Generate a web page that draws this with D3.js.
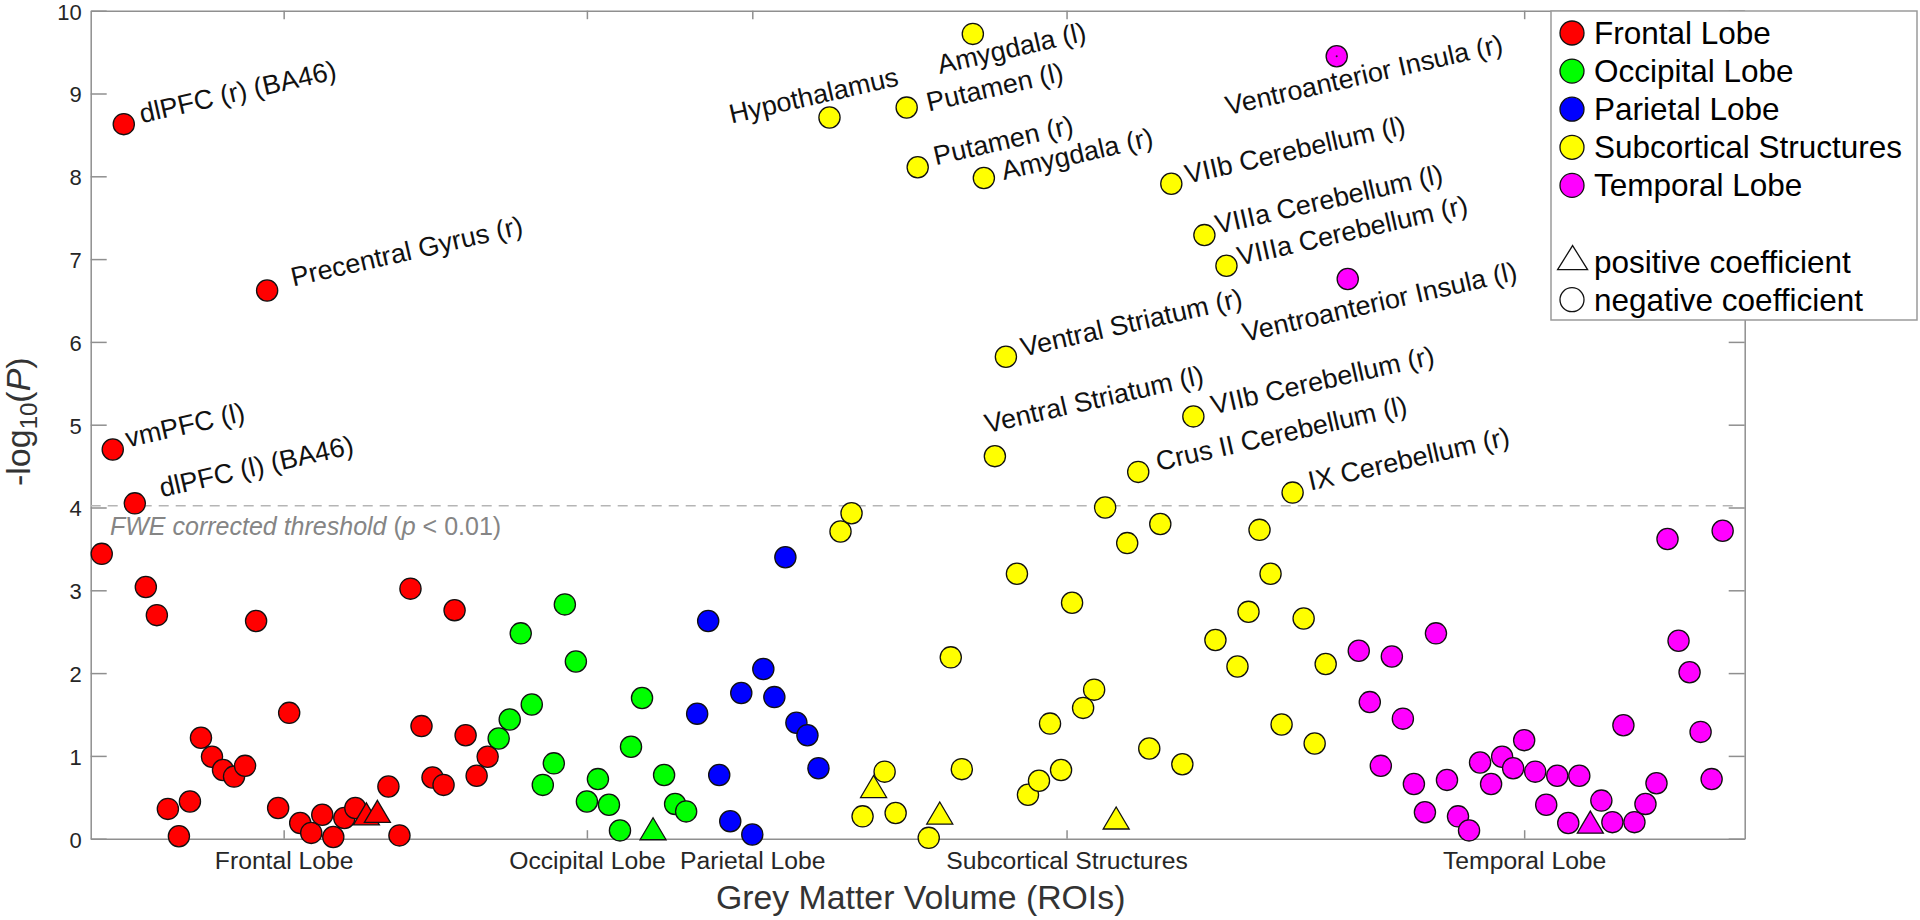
<!DOCTYPE html>
<html><head><meta charset="utf-8">
<script src="https://cdn.jsdelivr.net/npm/d3@7"></script>
<style>body{margin:0;background:#fff}svg{display:block}</style>
</head><body>
<svg id="chart" width="1920" height="920"></svg>
<script>
// ---------------- DATA ----------------
const categories = ["Frontal Lobe", "Occipital Lobe", "Parietal Lobe", "Subcortical Structures", "Temporal Lobe"];
const frontalValues = [3.44, 4.70, 8.63, 4.05, 3.04, 2.70, 0.36, 0.03, 0.45, 1.22, 0.99, 0.83, 0.75, 0.88, 2.63, 6.62, 0.37, 1.52, 0.19, 0.07, 0.29, 0.02, 0.25, 0.37, 0.30, 0.33, 0.63, 0.04, 3.02, 1.36, 0.74, 0.65, 2.76, 1.25, 0.76, 0.99];
const occipitalValues = [1.21, 1.44, 2.48, 1.62, 0.65, 0.91, 2.83, 2.14, 0.45, 0.72, 0.41, 0.10, 1.11, 1.70, 0.12, 0.77, 0.42, 0.33];
const parietalValues = [1.51, 2.63, 0.77, 0.21, 1.76, 0.05, 2.05, 1.71, 3.40, 1.40, 1.25, 0.85];
const subcorticalValues = [8.71, 3.71, 3.93, 0.27, 0.63, 0.81, 0.31, 8.83, 8.11, 0.01, 0.31, 2.19, 0.84, 9.72, 7.98, 4.62, 5.82, 3.20, 0.53, 0.70, 1.39, 0.83, 2.85, 1.58, 1.80, 4.00, 0.25, 3.57, 4.43, 1.09, 3.80, 7.91, 0.90, 5.10, 7.29, 2.40, 6.92, 2.08, 2.74, 3.73, 3.20, 1.38, 4.18, 2.66, 1.15, 2.11];
const temporalValues = [9.45, 6.76, 2.27, 1.65, 0.88, 2.20, 1.45, 0.66, 0.32, 2.48, 0.71, 0.27, 0.10, 0.92, 0.66, 0.99, 0.85, 1.19, 0.81, 0.41, 0.76, 0.19, 0.76, 0.20, 0.46, 0.20, 1.37, 0.20, 0.42, 0.67, 3.62, 2.39, 2.01, 1.29, 0.72, 3.72];
const seriesValues = [frontalValues, occipitalValues, parietalValues, subcorticalValues, temporalValues];
// ROI numbers (1-based, across all categories) with a positive coefficient
const positiveROIs = [25, 26, 51, 71, 77, 93, 136];
const yTickValues = [0, 1, 2, 3, 4, 5, 6, 7, 8, 9, 10];
const categoryTickPositions = [17.5, 45, 60, 88.5, 130];
const fweThreshold = 4.02;
const roiLabels = [
  [2, "vmPFC (l)"], [3, "dlPFC (r) (BA46)"], [4, "dlPFC (l) (BA46)"], [16, "Precentral Gyrus (r)"],
  [67, "Hypothalamus"], [74, "Putamen (l)"], [75, "Putamen (r)"], [80, "Amygdala (l)"], [81, "Amygdala (r)"],
  [82, "Ventral Striatum (l)"], [83, "Ventral Striatum (r)"], [95, "Crus II Cerebellum (l)"],
  [98, "VIIb Cerebellum (l)"], [100, "VIIb Cerebellum (r)"], [101, "VIIIa Cerebellum (l)"],
  [103, "VIIIa Cerebellum (r)"], [109, "IX Cerebellum (r)"],
  [113, "Ventroanterior Insula (r)"], [114, "Ventroanterior Insula (l)"]
];
const legendLabels = ["Frontal Lobe", "Occipital Lobe", "Parietal Lobe", "Subcortical Structures", "Temporal Lobe", "", "positive coefficient", "negative coefficient"];

// ---------------- LAYOUT / STYLE ----------------
const colors = ["#ff0000", "#00ff00", "#0000ff", "#ffff00", "#ff00ff"];
const FONT = "'Liberation Sans', Arial, Helvetica, sans-serif";
const plot = {left: 90.7, right: 1744.7, top: 10.7, bottom: 838.7};
// label text start offsets (px) relative to the marker centre
const labelOffsets = {
  2: [15, -2], 3: [18, -1], 4: [27, -6], 16: [26, -4], 67: [-98, 6], 74: [22, 4], 75: [18, -2],
  80: [-33, 40], 81: [20, 2], 82: [-8, -23], 83: [17, 0], 95: [20, -1], 98: [16, 0], 100: [20, -2],
  101: [13, -1], 103: [13, 0], 109: [18, -2], 113: [-109, 59], 114: [-103, 63]
};
const labelAngle = -12.8;
const axisColor = "#8f8f8f";

const svg = d3.select("#chart");
svg.append("rect").attr("width", 1920).attr("height", 920).attr("fill", "#fff");

const x = d3.scaleLinear().domain([0, 150]).range([plot.left, plot.right]);
const y = d3.scaleLinear().domain([0, 10]).range([plot.bottom, plot.top]);

// build points
const points = [];
let roi = 0;
seriesValues.forEach((vals, ci) => {
  vals.forEach(v => {
    roi += 1;
    points.push({roi, value: v, cat: ci, positive: positiveROIs.includes(roi)});
  });
});

// ---------------- AXES ----------------
function styleAxis(g) {
  g.select(".domain").attr("stroke", axisColor).attr("stroke-width", 1.5);
  g.selectAll(".tick line").attr("stroke", axisColor).attr("stroke-width", 1.5);
  g.selectAll(".tick text").attr("fill", "#262626").attr("font-family", FONT);
}
const gLeft = svg.append("g").attr("transform", `translate(${plot.left},0)`)
  .call(d3.axisLeft(y).tickValues(yTickValues).tickSizeInner(-16).tickSizeOuter(0).tickPadding(9).tickFormat(d3.format("d")));
gLeft.selectAll(".tick text").attr("font-size", 22).attr("dy", "0.38em");
styleAxis(gLeft);
const gRight = svg.append("g").attr("transform", `translate(${plot.right},0)`)
  .call(d3.axisRight(y).tickValues(yTickValues).tickSizeInner(-16).tickSizeOuter(0).tickFormat(""));
styleAxis(gRight);
const gBottom = svg.append("g").attr("transform", `translate(0,${plot.bottom})`)
  .call(d3.axisBottom(x).tickValues(categoryTickPositions).tickSizeInner(-8.5).tickSizeOuter(0).tickPadding(12.5).tickFormat((d, i) => categories[i]));
gBottom.selectAll(".tick text").attr("font-size", 24.7);
styleAxis(gBottom);
const gTop = svg.append("g").attr("transform", `translate(0,${plot.top})`)
  .call(d3.axisTop(x).tickValues(categoryTickPositions).tickSizeInner(-8.5).tickSizeOuter(0).tickFormat(""));
styleAxis(gTop);

// axis labels
svg.append("text").attr("x", (plot.left + plot.right) / 2 + 3).attr("y", 909)
  .attr("text-anchor", "middle").attr("font-family", FONT).attr("font-size", 33.8).attr("fill", "#333")
  .text("Grey Matter Volume (ROIs)");
const yl = svg.append("text").attr("transform", `translate(30,${(plot.top + plot.bottom) / 2 - 3}) rotate(-90)`)
  .attr("text-anchor", "middle").attr("font-family", FONT).attr("font-size", 34).attr("fill", "#333");
yl.append("tspan").text("-log");
yl.append("tspan").attr("font-size", 24).attr("dy", 7).text("10");
yl.append("tspan").attr("dy", -7).text("(");
yl.append("tspan").attr("font-style", "italic").text("P");
yl.append("tspan").text(")");

// threshold line and label
svg.append("line").attr("x1", x(0)).attr("x2", x(150) - 8).attr("y1", y(fweThreshold)).attr("y2", y(fweThreshold))
  .attr("stroke", "#b5b5b5").attr("stroke-width", 1.5).attr("stroke-dasharray", "10,7");
const tl = svg.append("text").attr("x", 110).attr("y", 535).attr("font-family", FONT).attr("font-size", 25).attr("fill", "#858585");
tl.append("tspan").attr("font-style", "italic").text("FWE corrected threshold ");
tl.append("tspan").text("(");
tl.append("tspan").attr("font-style", "italic").text("p");
tl.append("tspan").text(" < 0.01)");

// ---------------- MARKERS ----------------
const triW = 26, triH = 22;
const triPath = `M0,${-triH / 2}L${triW / 2},${triH / 2}L${-triW / 2},${triH / 2}Z`;
const gPts = svg.append("g");
points.forEach(p => {
  const cx = x(p.roi), cy = y(p.value);
  if (p.positive) {
    gPts.append("path").attr("d", triPath).attr("transform", `translate(${cx},${cy})`)
      .attr("fill", colors[p.cat]).attr("stroke", "#111").attr("stroke-width", 1.3);
  } else {
    gPts.append("circle").attr("cx", cx).attr("cy", cy).attr("r", 10.6)
      .attr("fill", colors[p.cat]).attr("stroke", "#111").attr("stroke-width", 1.3);
  }
});
// small centre dot visible on the right ventroanterior insula marker
gPts.append("circle").attr("cx", x(113)).attr("cy", y(points[112].value)).attr("r", 1).attr("fill", "#222");

// ---------------- ROI LABELS ----------------
roiLabels.forEach(([r, name]) => {
  const p = points[r - 1];
  const [dx, dy] = labelOffsets[r];
  svg.append("text")
    .attr("transform", `translate(${x(p.roi) + dx},${y(p.value) + dy}) rotate(${labelAngle})`)
    .attr("font-family", FONT).attr("font-size", 27).attr("fill", "#111").text(name);
});

// ---------------- LEGEND ----------------
const lg = svg.append("g");
lg.append("rect").attr("x", 1551).attr("y", 11).attr("width", 366).attr("height", 309)
  .attr("fill", "#fff").attr("stroke", "#9a9a9a").attr("stroke-width", 1.5);
legendLabels.forEach((lab, i) => {
  if (!lab) return;
  const cy = 33 + i * 38.1;
  if (i < 5) {
    lg.append("circle").attr("cx", 1572).attr("cy", cy).attr("r", 12)
      .attr("fill", colors[i]).attr("stroke", "#111").attr("stroke-width", 1.3);
  } else if (lab === "positive coefficient") {
    lg.append("path").attr("d", `M0,-12L15,12L-15,12Z`).attr("transform", `translate(1572.6,${cy - 4})`)
      .attr("fill", "#fff").attr("stroke", "#111").attr("stroke-width", 1.3);
  } else {
    lg.append("circle").attr("cx", 1572).attr("cy", cy).attr("r", 12)
      .attr("fill", "#fff").attr("stroke", "#111").attr("stroke-width", 1.3);
  }
  lg.append("text").attr("x", 1594).attr("y", cy).attr("dy", "0.35em")
    .attr("font-family", FONT).attr("font-size", 31.5).attr("fill", "#000").text(lab);
});
</script>
</body></html>
